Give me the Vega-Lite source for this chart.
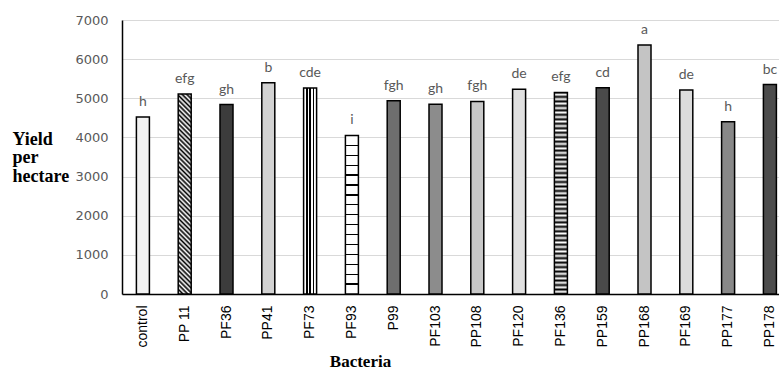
{
  "$schema": "https://vega.github.io/schema/vega-lite/v6.json",
  "width": 657,
  "height": 274,
  "autosize": {"type": "none"},
  "padding": {"left": 122, "top": 20, "right": 0, "bottom": 75},
  "background": "white",
  "config": {"view": {"stroke": null}},
  "data": {
    "values": [
      {"Bacteria": "control", "Yield": 4520, "Group": "h"},
      {"Bacteria": "PP 11", "Yield": 5110, "Group": "efg"},
      {"Bacteria": "PF36", "Yield": 4840, "Group": "gh"},
      {"Bacteria": "PP41", "Yield": 5400, "Group": "b"},
      {"Bacteria": "PF73", "Yield": 5260, "Group": "cde"},
      {"Bacteria": "PF93", "Yield": 4050, "Group": "i"},
      {"Bacteria": "P99", "Yield": 4940, "Group": "fgh"},
      {"Bacteria": "PF103", "Yield": 4850, "Group": "gh"},
      {"Bacteria": "PP108", "Yield": 4920, "Group": "fgh"},
      {"Bacteria": "PF120", "Yield": 5230, "Group": "de"},
      {"Bacteria": "PF136", "Yield": 5150, "Group": "efg"},
      {"Bacteria": "PP159", "Yield": 5270, "Group": "cd"},
      {"Bacteria": "PP168", "Yield": 6360, "Group": "a"},
      {"Bacteria": "PF169", "Yield": 5210, "Group": "de"},
      {"Bacteria": "PP177", "Yield": 4400, "Group": "h"},
      {"Bacteria": "PP178", "Yield": 5350, "Group": "bc"}
    ]
  },
  "encoding": {
    "x": {
      "field": "Bacteria",
      "type": "nominal",
      "sort": null,
      "scale": {"range": [0, 668.8], "paddingInner": 0, "paddingOuter": 0},
      "axis": {
        "domain": true,
        "domainColor": "black",
        "domainWidth": 1.5,
        "ticks": false,
        "labelAngle": -90,
        "labelFont": "Liberation Sans",
        "labelFontSize": 14,
        "labelColor": "black",
        "labelPadding": 11,
        "title": "Bacteria",
        "titleFont": "Liberation Serif",
        "titleFontSize": 17,
        "titleFontWeight": "bold",
        "titleColor": "black",
        "titleAlign": "center",
        "titleBaseline": "alphabetic",
        "titleX": 238,
        "titleY": 72
      }
    },
    "y": {
      "field": "Yield",
      "type": "quantitative",
      "scale": {"domain": [0, 7000], "nice": false},
      "axis": {
        "values": [0, 1000, 2000, 3000, 4000, 5000, 6000, 7000],
        "tickCount": 8,
        "format": "d",
        "labelOverlap": false,
        "domain": true,
        "domainColor": "black",
        "domainWidth": 1.5,
        "ticks": false,
        "grid": true,
        "gridColor": "#d9d9d9",
        "gridWidth": 1,
        "labelFont": "DejaVu Sans",
        "labelFontSize": 13,
        "labelColor": "#595959",
        "labelPadding": 14,
        "title": ["Yield", "per", "hectare"],
        "titleAngle": 0,
        "titleAlign": "left",
        "titleBaseline": "alphabetic",
        "titleX": -110,
        "titleY": 124,
        "titleFont": "Liberation Serif",
        "titleFontSize": 18,
        "titleFontWeight": "bold",
        "titleColor": "black",
        "titleLineHeight": 18.5
      }
    }
  },
  "layer": [
    {
      "mark": {"type": "bar", "width": 13, "stroke": "black", "strokeWidth": 1.5},
      "encoding": {
        "fill": {
          "condition": [
            {"test": "datum.Bacteria === 'PF73'", "value": {"gradient": "linear", "x1": 0, "y1": 0, "x2": 1, "y2": 0, "stops": [
              {"offset": 0, "color": "#fff"}, {"offset": 0.19, "color": "#fff"}, {"offset": 0.19, "color": "#000"}, {"offset": 0.31, "color": "#000"}, {"offset": 0.31, "color": "#fff"},
              {"offset": 0.44, "color": "#fff"}, {"offset": 0.44, "color": "#000"}, {"offset": 0.56, "color": "#000"}, {"offset": 0.56, "color": "#fff"},
              {"offset": 0.69, "color": "#fff"}, {"offset": 0.69, "color": "#000"}, {"offset": 0.81, "color": "#000"}, {"offset": 0.81, "color": "#fff"}, {"offset": 1, "color": "#fff"}
            ]}},
            {"test": "datum.Bacteria === 'PF93'", "value": {"gradient": "linear", "x1": 0, "y1": 0, "x2": 0, "y2": 1, "stops": [
              {"offset": 0, "color": "#fff"},
              {"offset": 0.0585, "color": "#fff"}, {"offset": 0.0585, "color": "#000"}, {"offset": 0.0665, "color": "#000"}, {"offset": 0.0665, "color": "#fff"},
              {"offset": 0.121, "color": "#fff"}, {"offset": 0.121, "color": "#000"}, {"offset": 0.129, "color": "#000"}, {"offset": 0.129, "color": "#fff"},
              {"offset": 0.1835, "color": "#fff"}, {"offset": 0.1835, "color": "#000"}, {"offset": 0.1915, "color": "#000"}, {"offset": 0.1915, "color": "#fff"},
              {"offset": 0.246, "color": "#fff"}, {"offset": 0.246, "color": "#000"}, {"offset": 0.254, "color": "#000"}, {"offset": 0.254, "color": "#fff"},
              {"offset": 0.3085, "color": "#fff"}, {"offset": 0.3085, "color": "#000"}, {"offset": 0.3165, "color": "#000"}, {"offset": 0.3165, "color": "#fff"},
              {"offset": 0.371, "color": "#fff"}, {"offset": 0.371, "color": "#000"}, {"offset": 0.379, "color": "#000"}, {"offset": 0.379, "color": "#fff"},
              {"offset": 0.4335, "color": "#fff"}, {"offset": 0.4335, "color": "#000"}, {"offset": 0.4415, "color": "#000"}, {"offset": 0.4415, "color": "#fff"},
              {"offset": 0.496, "color": "#fff"}, {"offset": 0.496, "color": "#000"}, {"offset": 0.504, "color": "#000"}, {"offset": 0.504, "color": "#fff"},
              {"offset": 0.5585, "color": "#fff"}, {"offset": 0.5585, "color": "#000"}, {"offset": 0.5665, "color": "#000"}, {"offset": 0.5665, "color": "#fff"},
              {"offset": 0.621, "color": "#fff"}, {"offset": 0.621, "color": "#000"}, {"offset": 0.629, "color": "#000"}, {"offset": 0.629, "color": "#fff"},
              {"offset": 0.6835, "color": "#fff"}, {"offset": 0.6835, "color": "#000"}, {"offset": 0.6915, "color": "#000"}, {"offset": 0.6915, "color": "#fff"},
              {"offset": 0.746, "color": "#fff"}, {"offset": 0.746, "color": "#000"}, {"offset": 0.754, "color": "#000"}, {"offset": 0.754, "color": "#fff"},
              {"offset": 0.8085, "color": "#fff"}, {"offset": 0.8085, "color": "#000"}, {"offset": 0.8165, "color": "#000"}, {"offset": 0.8165, "color": "#fff"},
              {"offset": 0.871, "color": "#fff"}, {"offset": 0.871, "color": "#000"}, {"offset": 0.879, "color": "#000"}, {"offset": 0.879, "color": "#fff"},
              {"offset": 0.9335, "color": "#fff"}, {"offset": 0.9335, "color": "#000"}, {"offset": 0.9415, "color": "#000"}, {"offset": 0.9415, "color": "#fff"},
              {"offset": 1, "color": "#fff"}
            ]}},
            {"test": "datum.Bacteria === 'PF136'", "value": {"gradient": "linear", "x1": 0, "y1": 0, "x2": 0, "y2": 1, "stops": [
              {"offset": 0, "color": "#000"}, {"offset": 0.0111, "color": "#fff"}, {"offset": 0.0222, "color": "#000"}, {"offset": 0.0333, "color": "#fff"}, {"offset": 0.0444, "color": "#000"}, {"offset": 0.0556, "color": "#fff"}, {"offset": 0.0667, "color": "#000"}, {"offset": 0.0778, "color": "#fff"}, {"offset": 0.0889, "color": "#000"}, {"offset": 0.1, "color": "#fff"},
              {"offset": 0.1111, "color": "#000"}, {"offset": 0.1222, "color": "#fff"}, {"offset": 0.1333, "color": "#000"}, {"offset": 0.1444, "color": "#fff"}, {"offset": 0.1556, "color": "#000"}, {"offset": 0.1667, "color": "#fff"}, {"offset": 0.1778, "color": "#000"}, {"offset": 0.1889, "color": "#fff"}, {"offset": 0.2, "color": "#000"},
              {"offset": 0.2111, "color": "#fff"}, {"offset": 0.2222, "color": "#000"}, {"offset": 0.2333, "color": "#fff"}, {"offset": 0.2444, "color": "#000"}, {"offset": 0.2556, "color": "#fff"}, {"offset": 0.2667, "color": "#000"}, {"offset": 0.2778, "color": "#fff"}, {"offset": 0.2889, "color": "#000"}, {"offset": 0.3, "color": "#fff"},
              {"offset": 0.3111, "color": "#000"}, {"offset": 0.3222, "color": "#fff"}, {"offset": 0.3333, "color": "#000"}, {"offset": 0.3444, "color": "#fff"}, {"offset": 0.3556, "color": "#000"}, {"offset": 0.3667, "color": "#fff"}, {"offset": 0.3778, "color": "#000"}, {"offset": 0.3889, "color": "#fff"}, {"offset": 0.4, "color": "#000"},
              {"offset": 0.4111, "color": "#fff"}, {"offset": 0.4222, "color": "#000"}, {"offset": 0.4333, "color": "#fff"}, {"offset": 0.4444, "color": "#000"}, {"offset": 0.4556, "color": "#fff"}, {"offset": 0.4667, "color": "#000"}, {"offset": 0.4778, "color": "#fff"}, {"offset": 0.4889, "color": "#000"}, {"offset": 0.5, "color": "#fff"},
              {"offset": 0.5111, "color": "#000"}, {"offset": 0.5222, "color": "#fff"}, {"offset": 0.5333, "color": "#000"}, {"offset": 0.5444, "color": "#fff"}, {"offset": 0.5556, "color": "#000"}, {"offset": 0.5667, "color": "#fff"}, {"offset": 0.5778, "color": "#000"}, {"offset": 0.5889, "color": "#fff"}, {"offset": 0.6, "color": "#000"},
              {"offset": 0.6111, "color": "#fff"}, {"offset": 0.6222, "color": "#000"}, {"offset": 0.6333, "color": "#fff"}, {"offset": 0.6444, "color": "#000"}, {"offset": 0.6556, "color": "#fff"}, {"offset": 0.6667, "color": "#000"}, {"offset": 0.6778, "color": "#fff"}, {"offset": 0.6889, "color": "#000"}, {"offset": 0.7, "color": "#fff"},
              {"offset": 0.7111, "color": "#000"}, {"offset": 0.7222, "color": "#fff"}, {"offset": 0.7333, "color": "#000"}, {"offset": 0.7444, "color": "#fff"}, {"offset": 0.7556, "color": "#000"}, {"offset": 0.7667, "color": "#fff"}, {"offset": 0.7778, "color": "#000"}, {"offset": 0.7889, "color": "#fff"}, {"offset": 0.8, "color": "#000"},
              {"offset": 0.8111, "color": "#fff"}, {"offset": 0.8222, "color": "#000"}, {"offset": 0.8333, "color": "#fff"}, {"offset": 0.8444, "color": "#000"}, {"offset": 0.8556, "color": "#fff"}, {"offset": 0.8667, "color": "#000"}, {"offset": 0.8778, "color": "#fff"}, {"offset": 0.8889, "color": "#000"}, {"offset": 0.9, "color": "#fff"},
              {"offset": 0.9111, "color": "#000"}, {"offset": 0.9222, "color": "#fff"}, {"offset": 0.9333, "color": "#000"}, {"offset": 0.9444, "color": "#fff"}, {"offset": 0.9556, "color": "#000"}, {"offset": 0.9667, "color": "#fff"}, {"offset": 0.9778, "color": "#000"}, {"offset": 0.9889, "color": "#fff"}, {"offset": 1, "color": "#000"}
            ]}},
            {"test": "datum.Bacteria === 'PP 11'", "value": {"gradient": "linear", "x1": 0, "y1": 1, "x2": 0.0689, "y2": -0.0605, "stops": [
              {"offset": 0, "color": "#000"}, {"offset": 0.0111, "color": "#fff"}, {"offset": 0.0222, "color": "#000"}, {"offset": 0.0333, "color": "#fff"}, {"offset": 0.0444, "color": "#000"}, {"offset": 0.0556, "color": "#fff"}, {"offset": 0.0667, "color": "#000"}, {"offset": 0.0778, "color": "#fff"}, {"offset": 0.0889, "color": "#000"}, {"offset": 0.1, "color": "#fff"},
              {"offset": 0.1111, "color": "#000"}, {"offset": 0.1222, "color": "#fff"}, {"offset": 0.1333, "color": "#000"}, {"offset": 0.1444, "color": "#fff"}, {"offset": 0.1556, "color": "#000"}, {"offset": 0.1667, "color": "#fff"}, {"offset": 0.1778, "color": "#000"}, {"offset": 0.1889, "color": "#fff"}, {"offset": 0.2, "color": "#000"},
              {"offset": 0.2111, "color": "#fff"}, {"offset": 0.2222, "color": "#000"}, {"offset": 0.2333, "color": "#fff"}, {"offset": 0.2444, "color": "#000"}, {"offset": 0.2556, "color": "#fff"}, {"offset": 0.2667, "color": "#000"}, {"offset": 0.2778, "color": "#fff"}, {"offset": 0.2889, "color": "#000"}, {"offset": 0.3, "color": "#fff"},
              {"offset": 0.3111, "color": "#000"}, {"offset": 0.3222, "color": "#fff"}, {"offset": 0.3333, "color": "#000"}, {"offset": 0.3444, "color": "#fff"}, {"offset": 0.3556, "color": "#000"}, {"offset": 0.3667, "color": "#fff"}, {"offset": 0.3778, "color": "#000"}, {"offset": 0.3889, "color": "#fff"}, {"offset": 0.4, "color": "#000"},
              {"offset": 0.4111, "color": "#fff"}, {"offset": 0.4222, "color": "#000"}, {"offset": 0.4333, "color": "#fff"}, {"offset": 0.4444, "color": "#000"}, {"offset": 0.4556, "color": "#fff"}, {"offset": 0.4667, "color": "#000"}, {"offset": 0.4778, "color": "#fff"}, {"offset": 0.4889, "color": "#000"}, {"offset": 0.5, "color": "#fff"},
              {"offset": 0.5111, "color": "#000"}, {"offset": 0.5222, "color": "#fff"}, {"offset": 0.5333, "color": "#000"}, {"offset": 0.5444, "color": "#fff"}, {"offset": 0.5556, "color": "#000"}, {"offset": 0.5667, "color": "#fff"}, {"offset": 0.5778, "color": "#000"}, {"offset": 0.5889, "color": "#fff"}, {"offset": 0.6, "color": "#000"},
              {"offset": 0.6111, "color": "#fff"}, {"offset": 0.6222, "color": "#000"}, {"offset": 0.6333, "color": "#fff"}, {"offset": 0.6444, "color": "#000"}, {"offset": 0.6556, "color": "#fff"}, {"offset": 0.6667, "color": "#000"}, {"offset": 0.6778, "color": "#fff"}, {"offset": 0.6889, "color": "#000"}, {"offset": 0.7, "color": "#fff"},
              {"offset": 0.7111, "color": "#000"}, {"offset": 0.7222, "color": "#fff"}, {"offset": 0.7333, "color": "#000"}, {"offset": 0.7444, "color": "#fff"}, {"offset": 0.7556, "color": "#000"}, {"offset": 0.7667, "color": "#fff"}, {"offset": 0.7778, "color": "#000"}, {"offset": 0.7889, "color": "#fff"}, {"offset": 0.8, "color": "#000"},
              {"offset": 0.8111, "color": "#fff"}, {"offset": 0.8222, "color": "#000"}, {"offset": 0.8333, "color": "#fff"}, {"offset": 0.8444, "color": "#000"}, {"offset": 0.8556, "color": "#fff"}, {"offset": 0.8667, "color": "#000"}, {"offset": 0.8778, "color": "#fff"}, {"offset": 0.8889, "color": "#000"}, {"offset": 0.9, "color": "#fff"},
              {"offset": 0.9111, "color": "#000"}, {"offset": 0.9222, "color": "#fff"}, {"offset": 0.9333, "color": "#000"}, {"offset": 0.9444, "color": "#fff"}, {"offset": 0.9556, "color": "#000"}, {"offset": 0.9667, "color": "#fff"}, {"offset": 0.9778, "color": "#000"}, {"offset": 0.9889, "color": "#fff"}, {"offset": 1, "color": "#000"}
            ]}}
          ],
          "field": "Bacteria",
          "type": "nominal",
          "sort": null,
          "legend": null,
          "scale": {
            "range": ["#f2f2f2", "#7a7a7a", "#3c3c3c", "#d2d2d2", "#b4b4b4", "#d8d8d8", "#6e6e6e", "#8c8c8c", "#c8c8c8", "#e0e0e0", "#6a6a6a", "#4a4a4a", "#c4c4c4", "#dcdcdc", "#888888", "#4c4c4c"]
          }
        }
      }
    },
    {
      "mark": {"type": "text", "dy": -11, "baseline": "alphabetic", "font": "Lato", "fontSize": 14, "color": "#595959"},
      "encoding": {
        "text": {"field": "Group", "type": "nominal"}
      }
    }
  ]
}
